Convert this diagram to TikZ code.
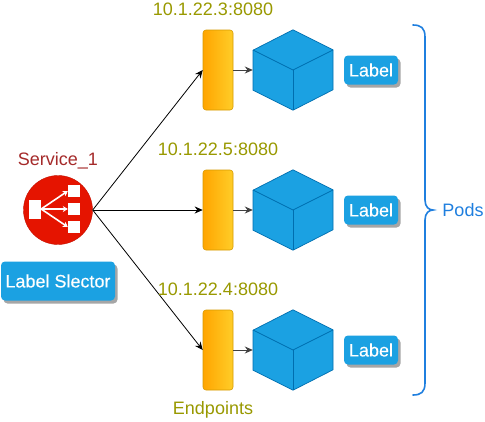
\documentclass[tikz,border=0pt]{standalone}
\usepackage{fontspec}
\setmainfont{Liberation Sans}
\newfontfamily\tagfont[FakeBold=0.25]{Liberation Sans}
\usetikzlibrary{arrows.meta,calc}
\definecolor{olivetxt}{HTML}{999900}
\definecolor{svcred}{HTML}{E51400}
\definecolor{svctxt}{HTML}{A52A2A}
\definecolor{boxblue}{HTML}{1BA1E2}
\definecolor{edgeblue}{HTML}{006EAF}
\definecolor{bracecol}{HTML}{1F7FDF}
\definecolor{barleft}{HTML}{FFA500}
\definecolor{barright}{HTML}{FFCD28}
\definecolor{baredge}{HTML}{D79B00}
\tikzset{
  lbl/.style={font=\fontsize{18}{20}\selectfont,inner sep=0pt},
  olive/.style={lbl,text=olivetxt},
  endbar/.style={draw=baredge,line width=0.6pt,rounded corners=3pt,left color=barleft,right color=barright,minimum width=30pt,minimum height=80pt,inner sep=0pt},
  podbox/.style={minimum width=80pt,minimum height=80pt,inner sep=0pt},
  cubeedge/.style={draw=edgeblue,line width=0.7pt,line join=round},
  tagbox/.style={lbl,font=\fontsize{18}{20}\selectfont\tagfont,text=white,fill=boxblue,rounded corners=4pt,inner sep=0pt,
    preaction={fill=black!35,transform canvas={xshift=2.5pt,yshift=-3pt}}},
  conn/.style={-{Stealth[length=8pt,width=7pt]},line width=0.8pt,black},
  stub/.style={-{Stealth[length=8pt,width=7pt]},line width=0.9pt,black!75},
  sq/.style={fill=white,inner sep=0pt,minimum width=12pt,minimum height=12pt},
  iconarr/.style={-{Stealth[length=5pt,width=6pt]},white,line width=1.6pt},
}
\begin{document}
\begin{tikzpicture}[x=1pt,y=-1pt]
\useasboundingbox[fill=white] (0,0) rectangle (485,421);
% service
\node[circle,fill=svcred,draw=svcred!85!black,inner sep=0pt,minimum size=69pt] (svc) at (58,210) {};
\node[sq,minimum width=12pt,minimum height=19pt] (src) at (35,209) {};
\node[sq] (d1) at (74,191) {};
\node[sq] (d2) at (74,209) {};
\node[sq] (d3) at (74,227) {};
\draw[iconarr] (src.east) -- (d1.west);
\draw[iconarr] (src.east) -- (d2.west);
\draw[iconarr] (src.east) -- (d3.west);
\node[lbl,text=svctxt] (svclabel) at (58,161) {Service\_1};
\node[tagbox,minimum width=114pt,minimum height=39pt] (selector) at (58,281) {Label Slector};
% rows
\foreach \i/\y in {1/70,2/210,3/350}{
  \node[endbar] (bar\i) at (218,\y) {};
  \node[podbox] (cube\i) at (293,\y) {};
  \filldraw[fill=boxblue,cubeedge] (cube\i.north) -- ++(40,20) -- ++(0,40) -- (cube\i.south) -- ++(-40,-20) -- ++(0,-40) -- cycle;
  \draw[cubeedge] ($(cube\i.center)+(-40,-20)$) -- (cube\i.center) -- ($(cube\i.center)+(40,-20)$);
  \draw[cubeedge] (cube\i.center) -- (cube\i.south);
  \node[tagbox,minimum width=54pt,minimum height=29pt] (tag\i) at (371,\y) {Label};
  \draw[stub] (bar\i.east) -- (cube\i.west);
  \draw[conn] (svc.east) -- (bar\i.west);
}
\node[olive] (addr1) at (213,9) {10.1.22.3:8080};
\node[olive] (addr2) at (218,149) {10.1.22.5:8080};
\node[olive] (addr3) at (218,289) {10.1.22.4:8080};
\node[olive] (endpoints) at (213,410) {Endpoints};
% brace
\node[lbl,text=bracecol] (pods) at (463,210) {Pods};
\coordinate (bt) at (413,25);
\coordinate (bb) at (413,395);
\coordinate (btip) at (433,210);
\draw[bracecol,line width=1.6pt,line cap=round] (bt) .. controls ($(bt)+(8,0)$) and ($(bt)+(12,3)$) .. ($(bt)+(12,12)$)
  -- ($(btip)+(-8,-10)$) .. controls ($(btip)+(-8,-3)$) and ($(btip)+(-4,0)$) .. (btip)
  .. controls ($(btip)+(-4,0)$) and ($(btip)+(-8,3)$) .. ($(btip)+(-8,10)$)
  -- ($(bb)+(12,-12)$) .. controls ($(bb)+(12,-3)$) and ($(bb)+(8,0)$) .. (bb);
\end{tikzpicture}
\end{document}
